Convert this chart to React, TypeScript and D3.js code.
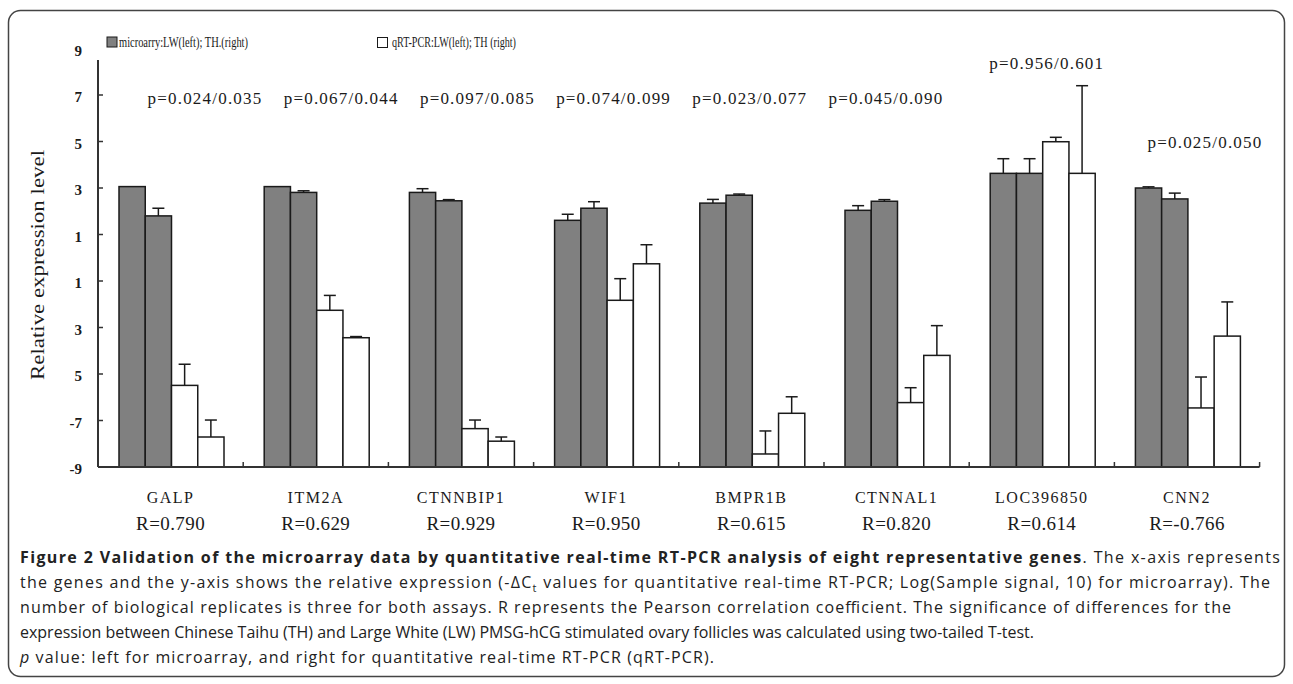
import React, { useEffect } from "react";
import * as d3 from "d3";

const genes = ["GALP", "ITM2A", "CTNNBIP1", "WIF1", "BMPR1B", "CTNNAL1", "LOC396850", "CNN2"];
const rValues = ["R=0.790", "R=0.629", "R=0.929", "R=0.950", "R=0.615", "R=0.820", "R=0.614", "R=-0.766"];
const pValues = ["p=0.024/0.035", "p=0.067/0.044", "p=0.097/0.085", "p=0.074/0.099", "p=0.023/0.077", "p=0.045/0.090", "p=0.956/0.601", "p=0.025/0.050"];

const seriesKeys = ["microLW", "microTH", "qrtLW", "qrtTH"];
const microLW = [3.06, 3.06, 2.81, 1.61, 2.35, 2.04, 3.63, 3.0];
const microTH = [1.8, 2.81, 2.45, 2.13, 2.69, 2.43, 3.63, 2.53];
const qrtLW = [-5.49, -2.26, -7.35, -1.83, -8.44, -6.23, 4.99, -6.46];
const qrtTH = [-7.71, -3.44, -7.89, -0.26, -6.69, -4.2, 3.63, -3.37];
const microLWErr = [0, 0, 0.16, 0.26, 0.16, 0.2, 0.63, 0.05];
const microTHErr = [0.33, 0.07, 0.05, 0.28, 0.05, 0.07, 0.63, 0.25];
const qrtLWErr = [0.91, 0.64, 0.37, 0.93, 0.99, 0.64, 0.19, 1.33];
const qrtTHErr = [0.73, 0.05, 0.18, 0.82, 0.71, 1.28, 3.77, 1.47];

const yTickValues = [9, 7, 5, 3, 1, -1, -3, -5, -7, -9];
const yTickLabels = ["9", "7", "5", "3", "1", "1", "3", "5", "-7", "-9"];

const legendLabels = ["microarry:LW(left); TH.(right)", "qRT-PCR:LW(left); TH (right)"];

const values = [microLW, microTH, qrtLW, qrtTH];
const errors = [microLWErr, microTHErr, qrtLWErr, qrtTHErr];
const fills = ["#808080", "#808080", "#ffffff", "#ffffff"];

const W = 1293;
const H = 684;
const SERIF = "'Liberation Serif', 'Times New Roman', serif";
const SANS = "'Open Sans', 'Noto Sans', sans-serif";

export default function App() {
  useEffect(() => {
    document.body.style.margin = "0";
  }, []);

  const x0 = 98;
  const catW = 145.2;
  const x = d3.scaleBand<string>().domain(genes).range([x0, x0 + catW * genes.length]).padding(0);
  const groupW = 105;
  const xs = d3.scaleBand<string>().domain(seriesKeys).range([0, groupW]).padding(0);
  const groupOffset = 21;
  const y = d3.scaleLinear().domain([-9, 9]).range([467, 48.5]);
  const baseY = y(-9);
  const axisEnd = x0 + catW * genes.length;

  const bars: any[] = [];
  genes.forEach((g, i) => {
    seriesKeys.forEach((s, j) => {
      const v = values[j][i];
      const e = errors[j][i];
      const bx = (x(g) as number) + groupOffset + (xs(s) as number);
      const bw = xs.bandwidth();
      bars.push({ key: g + s, bx, bw, v, e, fill: fills[j] });
    });
  });

  const capW = 12;
  const ink = "#1a1a1a";

  return (
    <svg width={W} height={H} style={{ display: "block", background: "#fff" }}>
      <rect x={8.5} y={10.5} width={1276} height={666} rx={12} ry={12} fill="#fff" stroke="#444" strokeWidth={1.5} />

      {/* legend */}
      <g fontFamily={SERIF} fontSize={14} fill={ink}>
        <rect x={107} y={37} width={10} height={10} fill="#808080" stroke={ink} strokeWidth={1} />
        <text x={119} y={47} textLength={129} lengthAdjust="spacingAndGlyphs">{legendLabels[0]}</text>
        <rect x={377.5} y={37.5} width={10} height={10} fill="#fff" stroke={ink} strokeWidth={1} />
        <text x={392} y={47} textLength={124} lengthAdjust="spacingAndGlyphs">{legendLabels[1]}</text>
      </g>

      {/* y axis */}
      <line x1={x0} x2={x0} y1={60} y2={baseY} stroke="#333" strokeWidth={2} />
      {yTickValues.map((v, i) => (
        <g key={"yt" + i}>
          {v < 8.6 && <line x1={x0} x2={x0 + 5} y1={y(v)} y2={y(v)} stroke="#333" strokeWidth={1.5} />}
          <text x={82} y={y(v) + 2} textAnchor="end" dominantBaseline="central" fontFamily={SERIF} fontWeight="bold" fontSize={15} fill={ink}>
            {yTickLabels[i]}
          </text>
        </g>
      ))}
      <text
        transform={`translate(44, ${265}) rotate(-90)`}
        textAnchor="middle"
        fontFamily={SERIF}
        fontSize={19}
        fill={ink}
        textLength={230}
        lengthAdjust="spacingAndGlyphs"
      >
        Relative expression level
      </text>

      {/* bars */}
      {bars.map((b) => (
        <rect key={b.key} x={b.bx} y={y(b.v)} width={b.bw} height={baseY - y(b.v)} fill={b.fill} stroke={ink} strokeWidth={1.5} />
      ))}
      {/* error bars */}
      {bars.filter((b) => b.e > 0).map((b) => {
        const cx = b.bx + b.bw / 2;
        return (
          <g key={"e" + b.key} stroke={ink} strokeWidth={1.5}>
            <line x1={cx} x2={cx} y1={y(b.v)} y2={y(b.v + b.e)} />
            <line x1={cx - capW / 2} x2={cx + capW / 2} y1={y(b.v + b.e)} y2={y(b.v + b.e)} />
          </g>
        );
      })}

      {/* x axis */}
      <line x1={x0} x2={axisEnd} y1={baseY} y2={baseY} stroke="#333" strokeWidth={2} />
      {genes.map((g) => (
        <line key={"xt" + g} x1={(x(g) as number) + catW} x2={(x(g) as number) + catW} y1={baseY} y2={baseY - 5} stroke="#333" strokeWidth={1.5} />
      ))}

      {/* gene labels */}
      {genes.map((g, i) => {
        const cx = (x(g) as number) + x.bandwidth() / 2;
        return (
          <g key={"gl" + g} fontFamily={SERIF} fill={ink}>
            <text x={cx} y={503} textAnchor="middle" fontSize={16} letterSpacing={1.5}>{g}</text>
            <text x={cx} y={530} textAnchor="middle" fontSize={19} letterSpacing={0.4}>{rValues[i]}</text>
          </g>
        );
      })}

      {/* p values */}
      <g fontFamily={SERIF} fontSize={17} fill={ink} textAnchor="middle" letterSpacing={1.2}>
        {pValues.slice(0, 6).map((p, i) => (
          <text key={"p" + i} x={205 + i * 136.2} y={104}>{p}</text>
        ))}
        <text x={(x(genes[6]) as number) + x.bandwidth() / 2 + 5} y={69}>{pValues[6]}</text>
        <text x={(x(genes[7]) as number) + x.bandwidth() / 2 + 18} y={148}>{pValues[7]}</text>
      </g>

      {/* caption */}
      <g fontFamily={SANS} fontSize={16} fill="#222">
        <text x={20} y={563} textLength={1260} lengthAdjust="spacing">
          <tspan fontWeight="bold">Figure 2 Validation of the microarray data by quantitative real-time RT-PCR analysis of eight representative genes</tspan>
          <tspan>. The x-axis represents</tspan>
        </text>
        <text x={20} y={588} textLength={1250} lengthAdjust="spacing">
          <tspan>the genes and the y-axis shows the relative expression (-ΔC</tspan>
          <tspan fontSize={11} dy={4}>t</tspan>
          <tspan dy={-4}> values for quantitative real-time RT-PCR; Log(Sample signal, 10) for microarray). The</tspan>
        </text>
        <text x={20} y={613} textLength={1211} lengthAdjust="spacing">
          number of biological replicates is three for both assays. R represents the Pearson correlation coefficient. The significance of differences for the
        </text>
        <text x={20} y={638} textLength={1014} lengthAdjust="spacing">
          expression between Chinese Taihu (TH) and Large White (LW) PMSG-hCG stimulated ovary follicles was calculated using two-tailed T-test.
        </text>
        <text x={20} y={663} textLength={694} lengthAdjust="spacing">
          <tspan fontStyle="italic">p</tspan>
          <tspan> value: left for microarray, and right for quantitative real-time RT-PCR (qRT-PCR).</tspan>
        </text>
      </g>
    </svg>
  );
}
